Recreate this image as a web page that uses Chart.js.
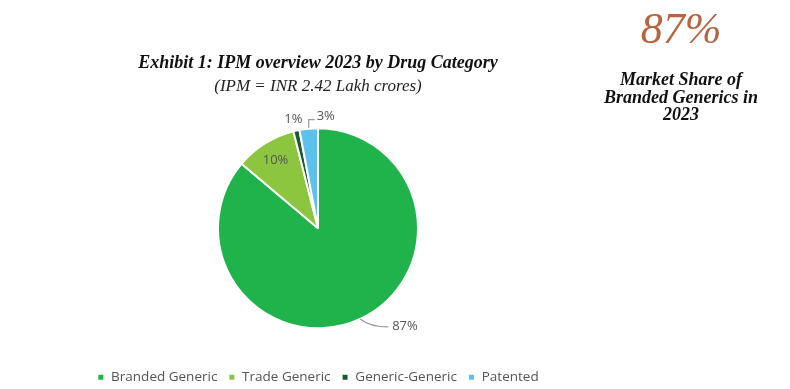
<!DOCTYPE html>
<html>
<head>
<meta charset="utf-8">
<script src="https://cdn.jsdelivr.net/npm/chart.js@4.4.1/dist/chart.umd.min.js"></script>
<style>
  html, body { margin: 0; padding: 0; background: #fff; }
  #wrap { position: relative; width: 790px; height: 389px; overflow: hidden; }
  #chart { position: absolute; left: 0; top: 0; }
  .t { position: absolute; font-family: "Liberation Serif", "DejaVu Serif", serif; color: #111; white-space: nowrap; text-align: center; }
  #title { left: 118px; width: 400px; top: 52px; font-size: 18px; font-weight: bold; font-style: italic; }
  #subtitle { left: 118px; width: 400px; top: 76px; font-size: 17px; font-style: italic; color: #222; }
  #big { left: 600px; width: 162px; top: 3px; font-size: 44px; font-style: italic; color: #b8643f; }
  #side { left: 580px; width: 202px; top: 71px; font-size: 18px; line-height: 17.5px; font-weight: bold; font-style: italic; }
</style>
</head>
<body>
<div id="wrap">
  <canvas id="chart" width="790" height="389"></canvas>
  <div class="t" id="title">Exhibit 1: IPM overview 2023 by Drug Category</div>
  <div class="t" id="subtitle">(IPM = INR 2.42 Lakh crores)</div>
  <div class="t" id="big">87%</div>
  <div class="t" id="side">Market Share of<br>Branded Generics in<br>2023</div>
</div>
<script>
const categories = ["Branded Generic", "Trade Generic", "Generic-Generic", "Patented"];
const shares = [87, 10, 1, 3];
const valueLabels = ["87%", "10%", "1%", "3%"];
const sliceColors = ["#20b24b", "#8cc63f", "#1d5a2c", "#5cc2ec"];

const labelPlugin = {
  id: "sliceLabels",
  afterDatasetsDraw(chart) {
    const ctx = chart.ctx;
    const arcs = chart.getDatasetMeta(0).data;
    ctx.save();
    ctx.font = "13px 'Open Sans', Lato, sans-serif";
    ctx.fillStyle = "#555";
    ctx.strokeStyle = "#9a9a9a";
    ctx.lineWidth = 1.2;
    ctx.textBaseline = "middle";
    arcs.forEach((arc, i) => {
      const p = arc.getProps(["x", "y", "startAngle", "endAngle", "outerRadius"], true);
      const mid = (p.startAngle + p.endAngle) / 2;
      const r = p.outerRadius;
      const ex = p.x + Math.cos(mid) * r, ey = p.y + Math.sin(mid) * r;
      if (i === 0) {
        ctx.beginPath();
        ctx.moveTo(ex, ey);
        ctx.quadraticCurveTo(ex + 10, ey + 8, ex + 28, ey + 8);
        ctx.stroke();
        ctx.textAlign = "left";
        ctx.fillText(valueLabels[i], ex + 32, ey + 7);
      } else if (i === 1) {
        ctx.textAlign = "center";
        ctx.fillText(valueLabels[i], p.x + Math.cos(mid) * r * 0.8, p.y + Math.sin(mid) * r * 0.8);
      } else if (i === 2) {
        ctx.textAlign = "right";
        ctx.fillText(valueLabels[i], ex + 6, ey - 11);
      } else {
        ctx.beginPath();
        ctx.moveTo(ex, ey - 1);
        ctx.lineTo(ex, ey - 9);
        ctx.lineTo(ex + 6, ey - 9);
        ctx.stroke();
        ctx.textAlign = "left";
        ctx.fillText(valueLabels[i], ex + 8, ey - 12);
      }
    });
    ctx.restore();
  }
};

new Chart(document.getElementById("chart"), {
  type: "pie",
  data: {
    labels: categories,
    datasets: [{
      data: shares,
      backgroundColor: sliceColors,
      borderColor: "#ffffff",
      borderWidth: 2,
      radius: 100
    }]
  },
  options: {
    responsive: false,
    animation: false,
    events: [],
    layout: { padding: { left: 0, right: 154, top: 97, bottom: -5 } },
    plugins: {
      tooltip: { enabled: false },
      legend: {
        position: "bottom",
        align: "center",
        labels: {
          boxWidth: 7,
          boxHeight: 7,
          padding: 11,
          color: "#555",
          font: { family: "'Open Sans', Lato, sans-serif", size: 13.5 }
        }
      }
    }
  },
  plugins: [labelPlugin]
});
</script>
</body>
</html>
